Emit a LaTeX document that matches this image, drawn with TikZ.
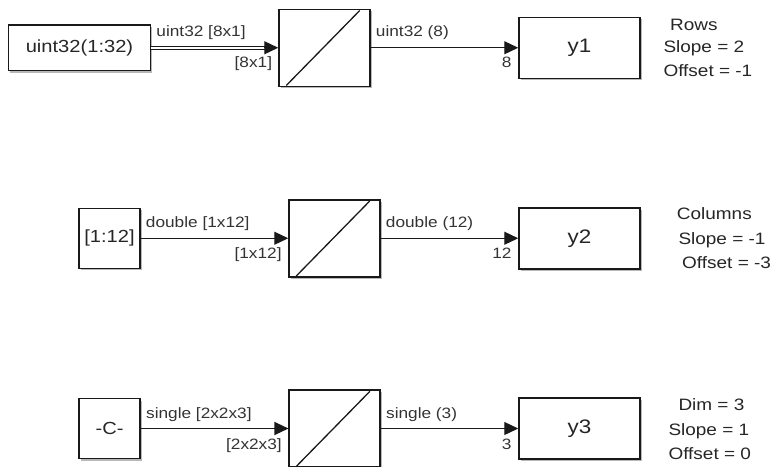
\documentclass[tikz,border=0pt]{standalone}
\usepackage{fontspec}
\setmainfont{Liberation Sans}[FakeStretch=1.15]
\usetikzlibrary{arrows.meta,calc,shadows}
\begin{document}
\begin{tikzpicture}[x=1pt,y=-1pt,
  blk/.style={draw=black!90, line width=1.5pt, fill=white, inner sep=0pt,
    text=black!85,
    drop shadow={shadow xshift=1.8pt, shadow yshift=-2pt, opacity=0.28, fill=black}},
  srcbox/.style={blk, font=\fontsize{17.5}{20}\selectfont},
  outbox/.style={blk, minimum width=121pt, minimum height=61pt, font=\fontsize{19.5}{22}\selectfont},
  convbox/.style={blk, minimum width=91pt, minimum height=77pt},
  conn/.style={draw=black!90, line width=1.2pt, -{Triangle[length=14pt,width=13pt]}},
  bus/.style={draw=black!90, line width=1.1pt, double=white, double distance=1.6pt},
  diag/.style={draw=black!90, line width=1.3pt},
  lab/.style={text=black!80, inner sep=0pt, font=\fontsize{15}{17}\selectfont},
  note/.style={text=black!85, inner sep=0pt, anchor=base west, font=\fontsize{16.5}{19}\selectfont}
]
\useasboundingbox (0,0) rectangle (770,466);
\clip (0,0) rectangle (770,466);

% ---------- row 1 ----------
\node[srcbox, minimum width=142pt, minimum height=45.5pt] (s1) at (79.5,47.75) {uint32(1:32)};
\node[convbox] (b1) at (324.5,47.75) {};
\node[outbox] (o1) at (579.5,47.75) {y1};
\draw[diag] ($(b1.south west)+(8,-1.5)$) -- ($(b1.north east)+(-11,2)$);
\draw[bus, shorten >=11pt] (s1) -- (b1);
\draw[conn] ($(b1.west)+(-14,0)$) -- (b1.west);
\draw[conn] (b1) -- (o1);
\node[lab, anchor=base west] (l1a) at ($(s1.east)+(5,-11)$) {uint32 [8x1]};
\node[lab, anchor=base east] (l1b) at ($(b1.west)+(-6,19.5)$) {[8x1]};
\node[lab, anchor=base west] (l1c) at ($(b1.east)+(5,-11)$) {uint32 (8)};
\node[lab, anchor=base east] (l1d) at ($(o1.west)+(-6.5,20)$) {8};
\node[note] (n1a) at (670,30) {Rows};
\node[note] (n1b) at (663.3,52.5) {Slope = 2};
\node[note] (n1c) at (663.3,76) {Offset = -1};

% ---------- row 2 ----------
\node[srcbox, minimum width=61pt, minimum height=60pt] (s2) at (109.5,238.25) {[1:12]};
\node[convbox] (b2) at (334.5,238.25) {};
\node[outbox] (o2) at (579.5,238.25) {y2};
\draw[diag] ($(b2.south west)+(8,-1.5)$) -- ($(b2.north east)+(-11,2)$);
\draw[conn] (s2) -- (b2);
\draw[conn] (b2) -- (o2);
\node[lab, anchor=base west] (l2a) at ($(s2.east)+(5,-10.5)$) {double [1x12]};
\node[lab, anchor=base east] (l2b) at ($(b2.west)+(-6.5,20.5)$) {[1x12]};
\node[lab, anchor=base west] (l2c) at ($(b2.east)+(5,-10.5)$) {double (12)};
\node[lab, anchor=base east] (l2d) at ($(o2.west)+(-6.5,20.5)$) {12};
\node[note] (n2a) at (676.7,219.5) {Columns};
\node[note] (n2b) at (678.3,244.5) {Slope = -1};
\node[note] (n2c) at (682,268.5) {Offset = -3};

% ---------- row 3 ----------
\node[srcbox, minimum width=61pt, minimum height=60pt] (s3) at (109.7,428.5) {-C-};
\node[convbox] (b3) at (334.7,428.5) {};
\node[outbox] (o3) at (579.5,428.5) {y3};
\draw[diag] ($(b3.south west)+(8,-1.5)$) -- ($(b3.north east)+(-11,2)$);
\draw[conn] (s3) -- (b3);
\draw[conn] (b3) -- (o3);
\node[lab, anchor=base west] (l3a) at ($(s3.east)+(5,-10.5)$) {single [2x2x3]};
\node[lab, anchor=base east] (l3b) at ($(b3.west)+(-6.5,20.5)$) {[2x2x3]};
\node[lab, anchor=base west] (l3c) at ($(b3.east)+(5,-10.5)$) {single (3)};
\node[lab, anchor=base east] (l3d) at ($(o3.west)+(-6.5,20.5)$) {3};
\node[note] (n3a) at (678.3,410.5) {Dim = 3};
\node[note] (n3b) at (668.3,435) {Slope = 1};
\node[note] (n3c) at (668.3,459) {Offset = 0};
\end{tikzpicture}
\end{document}
